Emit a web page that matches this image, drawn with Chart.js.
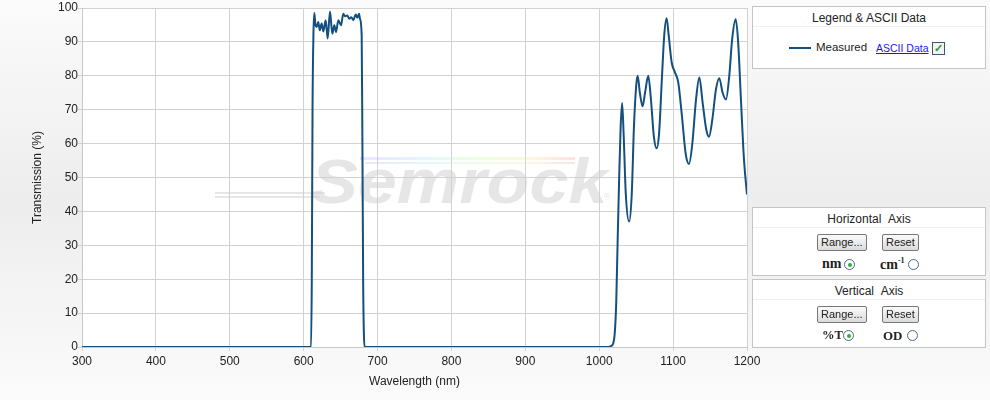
<!DOCTYPE html>
<html>
<head>
<meta charset="utf-8">
<script src="https://cdn.jsdelivr.net/npm/chart.js@4"></script>
<style>
  body { margin:0; width:990px; height:400px; overflow:hidden;
         background: linear-gradient(#fbfbfb, #ededed 50%, #fbfbfb);
         font-family: "Liberation Sans", Arial, sans-serif; color:#222; }
  #wrap { position:absolute; left:0; top:0; width:990px; height:400px; }
  .panel { position:absolute; left:752px; width:232px; background:#fff; border:1px solid #c4c4c4; }
  .ptitle { text-align:center; font-size:12px; height:19px; line-height:22px; border-bottom:1px solid #f0f0f0; }
  .btn { position:absolute; font-size:11px; height:15px; line-height:15px; padding:0 3px;
         border:1px solid #777; border-radius:2px; background:linear-gradient(#fafafa,#dcdcdc); }
  .lbl { position:absolute; font-family:"Liberation Serif", serif; font-weight:bold; font-size:14px; }
  .radio { position:absolute; width:9px; height:9px; border:1px solid #4a6a8a; border-radius:50%; background:#fff; }
  .radio.on::after { content:""; position:absolute; left:3px; top:3px; width:4px; height:4px; border-radius:50%; background:#2fae3a; }
</style>
</head>
<body>
<div id="wrap"><canvas id="grafico" width="990" height="400"></canvas></div>

<div class="panel" style="top:6px;height:61px;">
  <div class="ptitle">Legend &amp; ASCII Data</div>
  <div style="position:absolute;left:36px;top:40px;width:22px;height:2px;background:#14507f;"></div>
  <div style="position:absolute;left:63px;top:34px;font-size:11.5px;">Measured</div>
  <div style="position:absolute;left:123px;top:35px;font-size:10.5px;color:#1a1aee;text-decoration:underline;">ASCII Data</div>
  <div style="position:absolute;left:179px;top:35px;width:11px;height:11px;border:1px solid #3a5a7a;background:#f4f4f4;color:#2a9a2a;font-size:11px;line-height:11px;text-align:center;font-weight:bold;">&#10003;</div>
</div>

<div class="panel" style="top:207px;height:67px;">
  <div class="ptitle">Horizontal &nbsp;Axis</div>
  <div class="btn" style="left:64px;top:26px;">Range...</div>
  <div class="btn" style="left:129px;top:26px;">Reset</div>
  <div class="lbl" style="left:69px;top:48px;">nm</div>
  <div class="radio on" style="left:91px;top:51px;"></div>
  <div class="lbl" style="left:127px;top:48px;">cm<sup style="font-size:8px;">-1</sup></div>
  <div class="radio" style="left:155px;top:51px;"></div>
</div>

<div class="panel" style="top:279px;height:67px;">
  <div class="ptitle">Vertical &nbsp;Axis</div>
  <div class="btn" style="left:64px;top:26px;">Range...</div>
  <div class="btn" style="left:129px;top:26px;">Reset</div>
  <div class="lbl" style="left:69px;top:48px;font-size:12.5px;">%T</div>
  <div class="radio on" style="left:90px;top:50px;"></div>
  <div class="lbl" style="left:130px;top:48px;font-size:13px;">OD</div>
  <div class="radio" style="left:154px;top:50px;"></div>
</div>

<script>
const longitudes = [300, 610, 611, 612, 613.2, 614.4, 616, 617.6, 619.8, 621.7, 624.4, 626.6, 629.8, 632.5, 635.6,
  638.8, 641.5, 643.8, 646.9, 650.5, 653.6, 655.9, 659, 661.8, 664.5, 667.2, 670.4, 672.6, 674.9, 676.2,
  678.5, 679.5, 680.5, 681.5, 682.5,
  1012, 1016, 1019, 1021, 1023, 1025, 1027, 1029, 1031, 1033, 1036, 1040.5, 1044, 1047, 1050, 1052, 1055,
  1058.7, 1062, 1066.4, 1070, 1074, 1077.7, 1081, 1085, 1088, 1091.2, 1094, 1098, 1102.5, 1107, 1112, 1117,
  1121.5, 1126, 1131, 1135.5, 1140, 1145, 1148.6, 1153, 1158, 1162.5, 1167, 1171.6, 1176, 1180, 1184.7,
  1188, 1192, 1196, 1200];
const transmision = [0, 0, 20, 70, 92, 98.5, 95, 94.4, 95.9, 93.4, 95.4, 93.1, 96.4, 91, 99,
  92.4, 94.9, 92.9, 96.4, 94.9, 98.3, 97.6, 97.8, 96.8, 97.3, 96.4, 98.1, 97.1, 98.3, 96.8,
  92, 60, 20, 4, 0,
  0, 0.3, 1.1, 4, 13, 32, 50, 65, 72, 63, 45, 37, 45, 65, 77, 80, 75,
  71, 75, 80, 73, 62, 58.6, 63, 80, 92, 97, 92, 84, 81, 78, 68, 57,
  54, 60, 73, 79.5, 72, 64, 62, 67, 76, 79.3, 75, 73, 80, 91, 96.7,
  90, 72, 55, 45];
const ticksX = [300, 400, 500, 600, 700, 800, 900, 1000, 1100, 1200];
const ticksY = [0, 10, 20, 30, 40, 50, 60, 70, 80, 90, 100];

const puntos = longitudes.map((l, i) => ({ x: l, y: transmision[i] }));

// fondo blanco del area y marca de agua detras de la curva
const fondo = {
  id: 'fondo',
  beforeDraw(chart) {
    const { ctx, chartArea: a } = chart;
    ctx.save();
    ctx.fillStyle = '#fff';
    ctx.fillRect(a.left, a.top, a.right - a.left, a.bottom - a.top);
    ctx.restore();
  },
  beforeDatasetsDraw(chart) {
    const ctx = chart.ctx;
    ctx.save();
    const g = ctx.createLinearGradient(360, 0, 575, 0);
    g.addColorStop(0, 'rgba(190,170,255,0.3)');
    g.addColorStop(0.3, 'rgba(170,230,255,0.35)');
    g.addColorStop(0.55, 'rgba(200,255,170,0.35)');
    g.addColorStop(0.8, 'rgba(255,230,160,0.35)');
    g.addColorStop(1, 'rgba(255,170,170,0.35)');
    ctx.fillStyle = g;
    ctx.fillRect(360, 157, 215, 3);
    ctx.fillRect(365, 162, 210, 2);
    ctx.fillStyle = 'rgba(205,205,205,0.5)';
    ctx.fillRect(215, 192, 110, 2);
    ctx.fillRect(215, 196, 105, 2);
    ctx.translate(311, 203);
    ctx.scale(1.17, 1.04);
    ctx.font = 'italic bold 60px "Liberation Sans"';
    ctx.fillText('Semrock', 0, 0);
    ctx.setTransform(1, 0, 0, 1, 0, 0);
    ctx.font = '9px "Liberation Sans"';
    ctx.fillText('®', 604, 200);
    ctx.restore();
  }
};

const ctx = document.getElementById('grafico').getContext('2d');
window.myChart = new Chart(ctx, {
  type: 'line',
  data: {
    datasets: [{
      label: 'Measured',
      data: puntos,
      borderColor: '#14507f',
      borderWidth: 2,
      pointRadius: 0,
      cubicInterpolationMode: 'monotone',
      fill: false
    }]
  },
  options: {
    responsive: false,
    animation: false,
    layout: { padding: { left: 0, top: 8, right: 243, bottom: 0 } },
    plugins: { legend: { display: false }, tooltip: { enabled: false } },
    scales: {
      x: {
        type: 'linear', min: 300, max: 1200,
        afterBuildTicks: s => { s.ticks = ticksX.map(v => ({ value: v })); },
        afterFit: s => { s.height = 53; },
        grid: { color: '#d2d2d2', tickLength: 4 },
        border: { color: '#c8c8c8' },
        ticks: { color: '#222', padding: 3, font: { family: 'Liberation Sans', size: 12 },
                 callback: v => String(v) },
        title: { display: true, text: 'Wavelength (nm)', color: '#222', padding: 11,
                 font: { family: 'Liberation Sans', size: 12 } }
      },
      y: {
        min: 0, max: 100,
        afterBuildTicks: s => { s.ticks = ticksY.map(v => ({ value: v })); },
        afterFit: s => { s.width = 82; },
        grid: { color: '#d2d2d2', tickLength: 4 },
        border: { color: '#c8c8c8' },
        ticks: { color: '#222', padding: 0, font: { family: 'Liberation Sans', size: 12 },
                 callback: v => String(v) },
        title: { display: true, text: 'Transmission (%)', color: '#222', padding: 30,
                 font: { family: 'Liberation Sans', size: 12 } }
      }
    }
  },
  plugins: [fondo]
});
</script>
</body>
</html>
